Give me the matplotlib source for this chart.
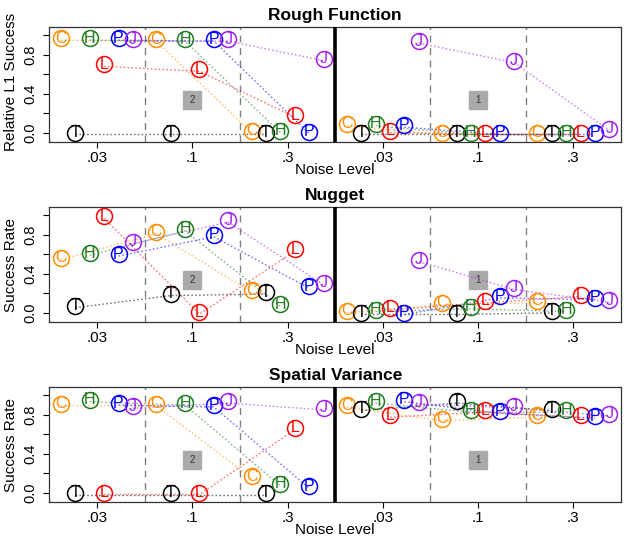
import numpy as np
import matplotlib.pyplot as plt
from matplotlib.colors import to_rgba

plt.rcParams["font.family"] = ["Liberation Sans", "DejaVu Sans"]

noise_labels = [".03", ".1", ".3"]
methods = ["C", "T", "H", "L", "P", "J"]
method_colors = ["#FF8C00", "#000000", "#1E7B1E", "#FF0000", "#0000FF", "#A020F0"]

# rows: C, T, H, L, P, J ; columns: noise .03, .1, .3
rough_2 = [
    [0.97, 0.96, 0.02],
    [0.00, 0.00, 0.00],
    [0.97, 0.96, 0.02],
    [0.70, 0.65, 0.18],
    [0.97, 0.96, 0.01],
    [0.96, 0.96, 0.76],
]
rough_1 = [
    [0.09, 0.00, 0.00],
    [0.00, 0.00, 0.00],
    [0.09, 0.00, 0.00],
    [0.02, 0.00, 0.00],
    [0.075, 0.00, 0.00],
    [0.94, 0.74, 0.04],
]
nugget_2 = [
    [0.565, 0.83, 0.23],
    [0.07, 0.195, 0.21],
    [0.61, 0.86, 0.085],
    [0.99, 0.005, 0.65],
    [0.60, 0.80, 0.27],
    [0.73, 0.95, 0.305],
]
nugget_1 = [
    [0.017, 0.10, 0.12],
    [0.00, 0.00, 0.017],
    [0.03, 0.058, 0.03],
    [0.048, 0.12, 0.185],
    [0.00, 0.17, 0.154],
    [0.545, 0.257, 0.127],
]
spatial_2 = [
    [0.914, 0.914, 0.168],
    [0.00, 0.00, 0.00],
    [0.955, 0.92, 0.09],
    [0.00, 0.00, 0.665],
    [0.92, 0.90, 0.065],
    [0.887, 0.94, 0.87],
]
spatial_1 = [
    [0.897, 0.76, 0.795],
    [0.863, 0.94, 0.863],
    [0.94, 0.846, 0.846],
    [0.795, 0.846, 0.795],
    [0.955, 0.835, 0.784],
    [0.93, 0.89, 0.81],
]

panels = [
    ("Rough Function", "Relative L1 Success", rough_2, rough_1),
    ("Nugget", "Success Rate", nugget_2, nugget_1),
    ("Spatial Variance", "Success Rate", spatial_2, spatial_1),
]
half_tags = ["2", "1"]


def draw_half(ax, values, h):
    for m, letter in enumerate(methods):
        xs = h * 3 + np.arange(3) + 0.5 + (m - 2.5) * 0.151
        ys = np.array(values[m])
        col = method_colors[m]
        ax.plot(xs, ys - 0.02, linestyle=(0, (1.2, 1.6)), lw=1.0,
                color=to_rgba(col, 0.55), zorder=2)
        ax.plot(xs, ys, "o", ms=11.5, mfc="none", mec=col, mew=1.1, zorder=3)
        for x, y in zip(xs, ys):
            ax.text(x, y, letter, color=col, fontsize=11.5, ha="center",
                    va="center", zorder=4)
    # gray tag box in the middle of each half
    ax.plot(h * 3 + 1.5, 0.33, "s", ms=12.5, color="#AAAAAA", zorder=1)
    ax.text(h * 3 + 1.5, 0.33, half_tags[h], fontsize=7, color="#333333",
            ha="center", va="center", zorder=1)


fig = plt.figure(figsize=(6.29, 5.37), dpi=100)
bottoms = [0.7356, 0.4004, 0.0652]
label_y = [0.52, 0.5, 0.5]

for (title, ylabel, left_vals, right_vals), b, ly in zip(panels, bottoms, label_y):
    ax = fig.add_axes([0.0784, b, 0.909, 0.214])
    ax.set_xlim(0, 6)
    ax.set_ylim(-0.097, 1.085)
    for xv in [1, 2, 4, 5]:
        ax.axvline(xv, color="#808080", lw=1.0, linestyle=(0, (5, 4)), zorder=1)
    ax.axvline(3, color="black", lw=2.6, zorder=5)

    draw_half(ax, left_vals, 0)
    draw_half(ax, right_vals, 1)

    ax.set_xticks(np.arange(6) + 0.5)
    ax.set_xticklabels(noise_labels * 2, fontsize=11)
    ax.set_yticks([0, 0.2, 0.4, 0.6, 0.8, 1.0])
    ax.set_yticklabels(["0.0", "", "0.4", "", "0.8", ""], fontsize=10.5,
                       rotation=90, va="center")
    ax.tick_params(axis="both", length=4.5, width=0.8, color="black")
    ax.tick_params(axis="x", pad=2)
    ax.tick_params(axis="y", pad=4)
    for sp in ax.spines.values():
        sp.set_color("#333333")
        sp.set_linewidth(0.9)

    ax.set_title(title, fontweight="bold", fontsize=12.5, pad=5)
    ax.set_ylabel(ylabel, fontsize=11)
    ax.yaxis.set_label_coords(-0.054, ly)
    ax.set_xlabel("Noise Level", fontsize=11, labelpad=-1.5)

fig.savefig("out.png", dpi=100)
